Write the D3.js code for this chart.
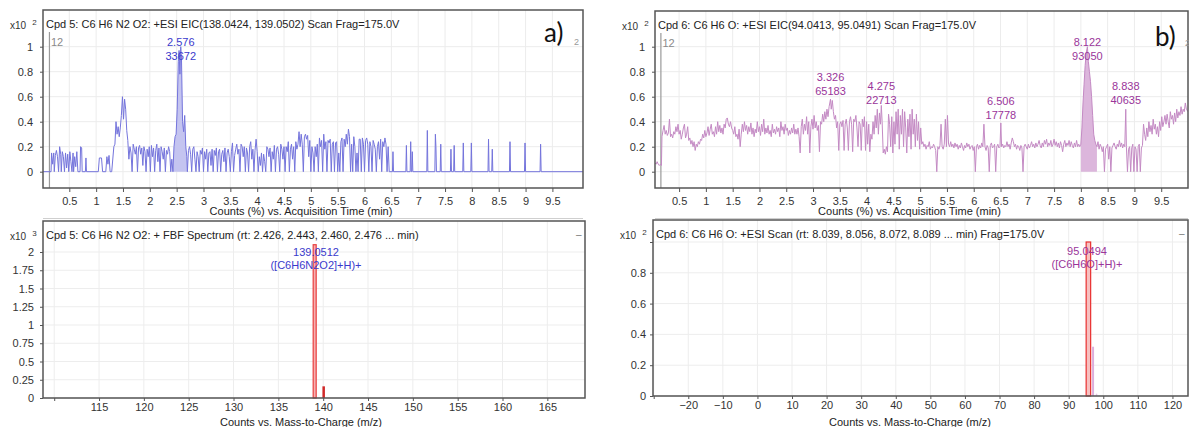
<!DOCTYPE html>
<html><head><meta charset="utf-8">
<script src="https://cdn.jsdelivr.net/npm/d3@7"></script>
<style>
body{margin:0;background:#fff;}
svg{display:block;font-family:"Liberation Sans",Arial,sans-serif;}
</style>
</head><body>
<svg id="c" width="1189" height="427"></svg>
<script>
// ---------------- DATA ----------------
const timeTicks = [0.5,1,1.5,2,2.5,3,3.5,4,4.5,5,5.5,6,6.5,7,7.5,8,8.5,9,9.5];
const eicYTicks = [0,0.2,0.4,0.6,0.8,1];
const specAXTicks = [110,115,120,125,130,135,140,145,150,155,160,165];
const specAYTicks = [0,0.25,0.5,0.75,1,1.25,1.5,1.75,2];
const specBXTicks = [-30,-20,-10,0,10,20,30,40,50,60,70,80,90,100,110,120];
const specBYTicks = [0,0.2,0.4,0.6,0.8,1];

const titleA1 = "Cpd 5: C6 H6 N2 O2: +ESI EIC(138.0424, 139.0502) Scan Frag=175.0V";
const titleA2 = "Cpd 5: C6 H6 N2 O2: + FBF Spectrum (rt: 2.426, 2.443, 2.460, 2.476 ... min)";
const titleB1 = "Cpd 6: C6 H6 O: +ESI EIC(94.0413, 95.0491) Scan Frag=175.0V";
const titleB2 = "Cpd 6: C6 H6 O: +ESI Scan (rt: 8.039, 8.056, 8.072, 8.089 ... min) Frag=175.0V";
const xTitleEIC = "Counts (%) vs. Acquisition Time (min)";
const xTitleSpec = "Counts vs. Mass-to-Charge (m/z)";

// EIC a) : [time (min), counts x10^2 (%)]
const eicA = [[0.00,0],[0.16,0],[0.17,0.15],[0.19,0.06],[0.21,0.15],[0.22,0],[0.24,0.13],[0.26,0.17],[0.28,0.12],[0.30,0],[0.32,0.2],[0.34,0.14],[0.35,0],[0.37,0.16],[0.39,0.12],[0.41,0],[0.43,0.15],[0.45,0.03],[0.47,0.14],[0.49,0],[0.51,0.16],[0.53,0.08],[0.55,0],[0.57,0.15],[0.58,0],[0.60,0.12],[0.62,0.04],[0.64,0.16],[0.66,0],[0.70,0],[0.71,0.2],[0.73,0.19],[0.74,0],[0.80,0],[0.81,0.11],[0.82,0],[1.04,0],[1.06,0.11],[1.10,0.11],[1.12,0],[1.18,0],[1.20,0.12],[1.22,0.06],[1.24,0.13],[1.26,0],[1.29,0],[1.33,0.2],[1.35,0.22],[1.37,0.4],[1.39,0.3],[1.41,0.36],[1.43,0.28],[1.45,0.35],[1.47,0.45],[1.49,0.6],[1.51,0.42],[1.53,0.58],[1.55,0.5],[1.57,0.33],[1.59,0.25],[1.61,0.1],[1.63,0.2],[1.65,0.15],[1.67,0],[1.69,0.22],[1.71,0.18],[1.73,0.14],[1.75,0.2],[1.77,0],[1.79,0.19],[1.81,0.21],[1.83,0.14],[1.85,0.19],[1.87,0.05],[1.89,0.2],[1.91,0.16],[1.93,0],[1.95,0.18],[1.97,0.12],[1.99,0.2],[2.01,0],[2.03,0.21],[2.05,0.12],[2.07,0.19],[2.09,0],[2.11,0.17],[2.13,0.22],[2.15,0.08],[2.17,0.19],[2.19,0],[2.21,0.2],[2.23,0.16],[2.25,0.1],[2.27,0.19],[2.29,0],[2.31,0.17],[2.33,0.14],[2.35,0.2],[2.37,0.16],[2.39,0],[2.41,0.1],[2.43,0],[2.45,0.2],[2.47,0.28],[2.49,0.3],[2.51,0.5],[2.53,0.88],[2.545,0.97],[2.56,0.78],[2.576,1.0],[2.59,0.9],[2.61,0.4],[2.63,0.32],[2.65,0.45],[2.67,0.2],[2.69,0.12],[2.70,0],[2.72,0.17],[2.74,0.2],[2.76,0.14],[2.78,0],[2.80,0.18],[2.82,0.2],[2.84,0.1],[2.86,0],[2.88,0.16],[2.90,0.12],[2.92,0],[2.94,0.17],[2.96,0.14],[2.98,0.19],[3.00,0],[3.02,0.16],[3.04,0.1],[3.06,0.18],[3.08,0],[3.10,0.15],[3.12,0.16],[3.14,0.05],[3.16,0.18],[3.18,0],[3.20,0.17],[3.22,0.13],[3.24,0.19],[3.26,0],[3.28,0.16],[3.30,0.18],[3.32,0],[3.34,0.14],[3.36,0.17],[3.38,0.08],[3.40,0.19],[3.42,0],[3.44,0.15],[3.46,0.18],[3.48,0.12],[3.50,0],[3.52,0.16],[3.54,0.23],[3.56,0],[3.58,0.13],[3.60,0.18],[3.62,0.22],[3.64,0.14],[3.66,0.18],[3.68,0],[3.70,0.22],[3.72,0.2],[3.74,0.12],[3.76,0.2],[3.78,0],[3.80,0.19],[3.82,0.15],[3.84,0],[3.86,0.2],[3.88,0.24],[3.90,0.1],[3.92,0.18],[3.94,0],[3.96,0.17],[3.98,0.26],[4.00,0.16],[4.02,0],[4.04,0.12],[4.06,0.05],[4.08,0.15],[4.10,0],[4.12,0.14],[4.14,0.08],[4.16,0],[4.18,0.2],[4.20,0.18],[4.22,0.12],[4.24,0.19],[4.26,0],[4.28,0.16],[4.30,0.1],[4.32,0.21],[4.34,0],[4.36,0.18],[4.38,0.2],[4.40,0.14],[4.42,0],[4.44,0.22],[4.46,0.18],[4.48,0.1],[4.50,0.2],[4.52,0],[4.54,0.2],[4.56,0.16],[4.58,0.24],[4.60,0],[4.62,0.18],[4.64,0.22],[4.66,0.1],[4.68,0.2],[4.70,0],[4.72,0.24],[4.74,0.18],[4.76,0.22],[4.78,0.32],[4.80,0.2],[4.82,0.3],[4.84,0.22],[4.86,0],[4.88,0.28],[4.90,0.3],[4.92,0.26],[4.94,0.29],[4.96,0.12],[4.98,0.25],[5.00,0],[5.02,0.2],[5.04,0.15],[5.06,0],[5.08,0.2],[5.10,0.12],[5.12,0.22],[5.14,0],[5.16,0.27],[5.18,0.2],[5.20,0.25],[5.22,0],[5.24,0.3],[5.26,0.18],[5.28,0.24],[5.30,0],[5.32,0.25],[5.34,0.23],[5.36,0.26],[5.38,0],[5.40,0.22],[5.42,0.24],[5.44,0],[5.46,0.23],[5.48,0.24],[5.50,0],[5.52,0.15],[5.54,0],[5.56,0.24],[5.58,0.27],[5.60,0],[5.62,0.26],[5.64,0.2],[5.66,0.3],[5.68,0.22],[5.70,0.34],[5.72,0.28],[5.74,0],[5.76,0.22],[5.78,0],[5.80,0.28],[5.82,0.2],[5.84,0],[5.86,0.15],[5.88,0],[5.90,0.26],[5.92,0.26],[5.94,0],[5.96,0.27],[5.98,0.22],[6.00,0],[6.02,0.25],[6.04,0.27],[6.06,0.22],[6.08,0],[6.10,0.24],[6.12,0.2],[6.14,0],[6.16,0.25],[6.18,0.22],[6.20,0.18],[6.22,0],[6.24,0.2],[6.26,0.24],[6.28,0.1],[6.30,0.26],[6.32,0],[6.34,0.24],[6.36,0.2],[6.38,0.27],[6.40,0.22],[6.42,0],[6.44,0.2],[6.46,0],[6.52,0],[6.53,0.16],[6.54,0],[6.77,0],[6.78,0.21],[6.79,0],[6.85,0],[6.86,0.24],[6.87,0],[6.88,0],[6.89,0.16],[6.90,0],[7.16,0],[7.17,0.33],[7.18,0],[7.31,0],[7.32,0.30],[7.33,0.2],[7.34,0],[7.41,0],[7.42,0.22],[7.43,0],[7.60,0],[7.61,0.18],[7.62,0],[7.66,0],[7.67,0.21],[7.68,0],[7.83,0],[7.84,0.23],[7.85,0],[7.98,0],[7.99,0.23],[8.00,0],[8.30,0],[8.31,0.26],[8.32,0],[8.37,0],[8.38,0.18],[8.39,0],[8.70,0],[8.71,0.24],[8.72,0],[8.98,0],[8.99,0.23],[9.00,0],[9.27,0],[9.28,0.22],[9.29,0],[10.07,0]];

// EIC b)
const eicB = [[0.05,0.07],[0.07,0.06],[0.09,0.08],[0.11,0.06],[0.13,0.05],[0.15,0.06],[0.17,0.05],[0.18,0.28],[0.20,0.33],[0.22,0.37],[0.24,0.3],[0.26,0.33],[0.28,0.29],[0.30,0.31],[0.32,0.42],[0.34,0.28],[0.36,0.3],[0.38,0.27],[0.40,0.32],[0.42,0.3],[0.44,0.36],[0.46,0.32],[0.48,0.38],[0.50,0.3],[0.52,0.33],[0.54,0.26],[0.56,0.3],[0.58,0.35],[0.60,0.38],[0.62,0.27],[0.64,0.3],[0.66,0.36],[0.68,0.25],[0.70,0.27],[0.72,0.22],[0.74,0.25],[0.76,0.2],[0.78,0.24],[0.80,0.17],[0.82,0.22],[0.84,0.2],[0.86,0.24],[0.88,0.22],[0.90,0.26],[0.92,0.25],[0.94,0.3],[0.96,0.27],[0.98,0.33],[1.00,0.28],[1.02,0.31],[1.04,0.36],[1.06,0.29],[1.08,0.34],[1.10,0.38],[1.12,0.3],[1.14,0.32],[1.16,0.28],[1.18,0.36],[1.20,0.3],[1.22,0.4],[1.24,0.32],[1.26,0.37],[1.28,0.31],[1.30,0.35],[1.32,0.3],[1.34,0.38],[1.36,0.35],[1.38,0.42],[1.40,0.43],[1.42,0.38],[1.44,0.36],[1.46,0.4],[1.48,0.35],[1.50,0.33],[1.52,0.3],[1.54,0.36],[1.56,0.28],[1.58,0.3],[1.60,0.26],[1.62,0.34],[1.64,0.2],[1.66,0.3],[1.68,0.38],[1.70,0.32],[1.72,0.4],[1.74,0.33],[1.76,0.37],[1.78,0.3],[1.80,0.36],[1.82,0.32],[1.84,0.39],[1.86,0.3],[1.88,0.35],[1.90,0.28],[1.92,0.34],[1.94,0.31],[1.96,0.4],[1.98,0.32],[2.00,0.36],[2.02,0.29],[2.04,0.38],[2.06,0.32],[2.08,0.42],[2.10,0.3],[2.12,0.35],[2.14,0.31],[2.16,0.37],[2.18,0.3],[2.20,0.33],[2.22,0.28],[2.24,0.38],[2.26,0.31],[2.28,0.34],[2.30,0.3],[2.32,0.36],[2.34,0.32],[2.36,0.35],[2.38,0.28],[2.40,0.4],[2.42,0.33],[2.44,0.36],[2.46,0.3],[2.48,0.38],[2.50,0.33],[2.52,0.35],[2.54,0.29],[2.56,0.33],[2.58,0.3],[2.60,0.35],[2.62,0.31],[2.64,0.38],[2.66,0.3],[2.68,0.34],[2.70,0.3],[2.72,0.35],[2.74,0.28],[2.76,0.15],[2.78,0.36],[2.80,0.42],[2.82,0.3],[2.84,0.38],[2.86,0.33],[2.88,0.44],[2.90,0.3],[2.92,0.4],[2.94,0.15],[2.96,0.36],[2.98,0.42],[3.00,0.34],[3.02,0.45],[3.04,0.35],[3.06,0.4],[3.08,0.33],[3.10,0.37],[3.12,0.16],[3.14,0.4],[3.16,0.38],[3.18,0.46],[3.20,0.4],[3.22,0.48],[3.24,0.42],[3.26,0.5],[3.28,0.44],[3.30,0.52],[3.326,0.58],[3.34,0.5],[3.36,0.57],[3.38,0.48],[3.40,0.42],[3.42,0.45],[3.44,0.35],[3.46,0.4],[3.48,0.17],[3.50,0.38],[3.52,0.4],[3.54,0.36],[3.56,0.41],[3.58,0.17],[3.60,0.38],[3.62,0.42],[3.64,0.35],[3.66,0.17],[3.68,0.4],[3.70,0.44],[3.72,0.38],[3.74,0.16],[3.76,0.42],[3.78,0.4],[3.80,0.45],[3.82,0.35],[3.84,0.2],[3.86,0.4],[3.88,0.38],[3.90,0.17],[3.92,0.42],[3.94,0.36],[3.96,0.44],[3.98,0.17],[4.00,0.4],[4.02,0.22],[4.04,0.38],[4.06,0.16],[4.08,0.3],[4.10,0.26],[4.12,0.4],[4.14,0.3],[4.16,0.45],[4.18,0.35],[4.20,0.5],[4.22,0.3],[4.24,0.47],[4.26,0.38],[4.275,0.53],[4.29,0.4],[4.31,0.15],[4.33,0.18],[4.35,0.14],[4.37,0.2],[4.39,0.16],[4.41,0.46],[4.43,0.38],[4.45,0.2],[4.47,0.44],[4.49,0.15],[4.51,0.4],[4.53,0.22],[4.55,0.48],[4.57,0.3],[4.59,0.5],[4.61,0.18],[4.63,0.45],[4.65,0.3],[4.67,0.5],[4.69,0.2],[4.71,0.48],[4.73,0.35],[4.75,0.15],[4.77,0.42],[4.79,0.28],[4.81,0.46],[4.83,0.18],[4.85,0.5],[4.87,0.3],[4.89,0.42],[4.91,0.2],[4.93,0.46],[4.95,0.25],[4.97,0.4],[4.99,0.18],[5.01,0.35],[5.03,0.22],[5.05,0.24],[5.07,0.2],[5.09,0.22],[5.11,0.18],[5.13,0.21],[5.15,0.2],[5.17,0.24],[5.19,0.18],[5.21,0.2],[5.23,0.19],[5.25,0.22],[5.27,0.2],[5.29,0.17],[5.31,0.0],[5.33,0.2],[5.35,0.18],[5.37,0.21],[5.39,0.38],[5.41,0.2],[5.43,0.18],[5.45,0.22],[5.47,0.42],[5.49,0.2],[5.51,0.45],[5.53,0.22],[5.55,0.2],[5.57,0.24],[5.59,0.2],[5.61,0.22],[5.63,0.19],[5.65,0.23],[5.67,0.2],[5.69,0.22],[5.71,0.18],[5.73,0.21],[5.75,0.19],[5.77,0.23],[5.79,0.2],[5.81,0.17],[5.83,0.21],[5.85,0.19],[5.87,0.23],[5.89,0.2],[5.91,0.22],[5.93,0.18],[5.95,0.2],[5.97,0.21],[5.99,0.17],[6.01,0.2],[6.03,0.0],[6.05,0.2],[6.07,0.22],[6.09,0.18],[6.11,0.21],[6.13,0.19],[6.15,0.23],[6.17,0.2],[6.19,0.38],[6.21,0.2],[6.23,0.17],[6.25,0.21],[6.27,0.19],[6.29,0.0],[6.31,0.21],[6.33,0.23],[6.35,0.19],[6.37,0.2],[6.39,0.22],[6.41,0.0],[6.43,0.2],[6.45,0.22],[6.47,0.19],[6.49,0.2],[6.506,0.39],[6.52,0.2],[6.54,0.22],[6.56,0.19],[6.58,0.21],[6.60,0.2],[6.62,0.24],[6.64,0.2],[6.66,0.22],[6.68,0.18],[6.70,0.23],[6.72,0.27],[6.74,0.24],[6.76,0.2],[6.78,0.22],[6.80,0.18],[6.82,0.21],[6.84,0.2],[6.86,0.17],[6.88,0.21],[6.90,0.19],[6.92,0.0],[6.94,0.2],[6.96,0.22],[6.98,0.2],[7.00,0.18],[7.02,0.22],[7.04,0.19],[7.06,0.21],[7.08,0.24],[7.10,0.2],[7.12,0.22],[7.14,0.19],[7.16,0.23],[7.18,0.2],[7.20,0.22],[7.22,0.25],[7.24,0.21],[7.26,0.19],[7.28,0.23],[7.30,0.2],[7.32,0.25],[7.34,0.22],[7.36,0.26],[7.38,0.2],[7.40,0.23],[7.42,0.21],[7.44,0.25],[7.46,0.2],[7.48,0.22],[7.50,0.26],[7.52,0.21],[7.54,0.24],[7.56,0.2],[7.58,0.23],[7.60,0.19],[7.62,0.24],[7.64,0.21],[7.66,0.16],[7.68,0.22],[7.70,0.25],[7.72,0.2],[7.74,0.23],[7.76,0.21],[7.78,0.25],[7.80,0.2],[7.82,0.24],[7.84,0.21],[7.86,0.19],[7.88,0.23],[7.90,0.2],[7.92,0.25],[7.94,0.2],[7.96,0.22],[7.98,0.2],[8.00,0.22],[8.02,0.35],[8.04,0.55],[8.06,0.7],[8.08,0.85],[8.10,0.95],[8.122,1.0],[8.14,0.88],[8.16,0.8],[8.18,0.72],[8.20,0.6],[8.22,0.45],[8.24,0.3],[8.26,0.25],[8.28,0.22],[8.30,0.2],[8.32,0.24],[8.34,0.18],[8.36,0.22],[8.38,0.2],[8.40,0.16],[8.42,0.2],[8.44,0.0],[8.46,0.18],[8.48,0.2],[8.50,0.22],[8.52,0.1],[8.54,0.2],[8.56,0.0],[8.58,0.19],[8.60,0.21],[8.62,0.23],[8.64,0.2],[8.66,0.18],[8.68,0.22],[8.70,0.2],[8.72,0.25],[8.74,0.2],[8.76,0.23],[8.78,0.19],[8.80,0.22],[8.82,0.2],[8.838,0.5],[8.85,0.2],[8.87,0.0],[8.89,0.18],[8.91,0.2],[8.93,0.0],[8.95,0.19],[8.97,0.22],[8.99,0.0],[9.01,0.2],[9.03,0.18],[9.05,0.0],[9.07,0.2],[9.09,0.22],[9.11,0.0],[9.13,0.19],[9.15,0.21],[9.17,0.38],[9.19,0.3],[9.21,0.25],[9.23,0.35],[9.25,0.28],[9.27,0.4],[9.29,0.32],[9.31,0.37],[9.33,0.3],[9.35,0.42],[9.37,0.34],[9.39,0.38],[9.41,0.3],[9.43,0.36],[9.45,0.28],[9.47,0.4],[9.49,0.33],[9.51,0.44],[9.53,0.36],[9.55,0.4],[9.57,0.45],[9.59,0.38],[9.61,0.46],[9.63,0.4],[9.65,0.35],[9.67,0.48],[9.69,0.42],[9.71,0.45],[9.73,0.38],[9.75,0.47],[9.77,0.4],[9.79,0.5],[9.81,0.43],[9.83,0.48],[9.85,0.45],[9.87,0.52],[9.89,0.46],[9.91,0.5],[9.93,0.48],[9.95,0.55],[9.97,0.5],[10.0,0.48]];

// integrated peak ranges (min)
const peakRangeA = [2.43, 2.70];
const peakRangeB = [8.00, 8.30];

// peak labels
const peakLabelsA_rt = ["2.576"];
const peakLabelsA_area = ["33672"];
const peakLabelsB_rt = ["3.326","4.275","6.506","8.122","8.838"];
const peakLabelsB_area = ["65183","22713","17778","93050","40635"];

// spectra : m/z and abundance
const specA_mz = [139.0512, 140.054];
const specA_ab = [2.10, 0.16];
const specA_label = ["139.0512", "([C6H6N2O2]+H)+"];
const specB_mz = [95.0494, 97.05, 98.05];
const specB_ab = [1.0, 0.32, 0.015];
const specB_label = ["95.0494", "([C6H6O]+H)+"];

// ---------------- DRAWING ----------------
const svg = d3.select("#c");
const FONT = 11;

function styleAxis(g, size){
  g.select(".domain").remove();
  g.selectAll("line").attr("stroke","#555");
  g.selectAll("text").attr("fill","#333").style("font-size", size+"px").style("font-family",'"Liberation Sans",Arial,sans-serif');
}

function multiplier(x, y, exp){
  const t = svg.append("text").attr("x",x).attr("y",y).attr("fill","#333").style("font-size","10px");
  t.append("tspan").text("x10");
  t.append("tspan").attr("dx",6).attr("dy",-4).style("font-size","8px").text(exp);
}

function eicPanel(cfg){
  const {L,R,T,B,x0,x1,y0px,data,line,fill,labCol,title,marker,range,letter} = cfg;
  const x = d3.scaleLinear().domain([x0,x1]).range([L,R]);
  const y = d3.scaleLinear().domain([0,1]).range([y0px, y0px-125]);
  const g = svg.append("g");
  const clipId = "clip"+Math.round(L);
  svg.append("clipPath").attr("id",clipId).append("rect").attr("x",L).attr("y",T).attr("width",R-L).attr("height",B-T);
  // grid
  g.selectAll(".gx").data(timeTicks).join("line").attr("x1",d=>x(d)).attr("x2",d=>x(d)).attr("y1",T).attr("y2",B).attr("stroke","#ececec");
  g.selectAll(".gy").data(eicYTicks).join("line").attr("x1",L).attr("x2",R).attr("y1",d=>y(d)).attr("y2",d=>y(d)).attr("stroke","#ececec");
  // peak fill
  const inPk = data.filter(d=>d[0]>=range[0] && d[0]<=range[1]);
  const cg = g.append("g").attr("clip-path",`url(#${clipId})`);
  cg.append("path").datum(inPk).attr("d", d3.area().x(d=>x(d[0])).y0(y(0)).y1(d=>y(d[1]))).attr("fill",fill).attr("stroke","none");
  // marker line
  cg.append("line").attr("x1",x(marker)).attr("x2",x(marker)).attr("y1",T+22).attr("y2",B).attr("stroke","#9a9a9a").attr("stroke-width",1.2);
  g.append("text").attr("x",x(marker)+1.5).attr("y",T+36).attr("fill","#8a8a8a").style("font-size","11px").text("12");
  // line
  cg.append("path").datum(data).attr("d", d3.line().x(d=>x(d[0])).y(d=>y(d[1]))).attr("fill","none").attr("stroke",line).attr("stroke-width",1).attr("stroke-linejoin","round");
  // box
  g.append("rect").attr("x",L).attr("y",T).attr("width",R-L).attr("height",B-T).attr("fill","none").attr("stroke","#555").attr("stroke-width",1.5);
  // axes
  const ax = g.append("g").attr("transform",`translate(0,${B})`).call(d3.axisBottom(x).tickValues(timeTicks).tickSize(4).tickPadding(5).tickFormat(d3.format("~g")));
  styleAxis(ax, FONT);
  const ay = g.append("g").attr("transform",`translate(${L},0)`).call(d3.axisLeft(y).tickValues(eicYTicks).tickSize(3).tickPadding(7).tickFormat(d3.format("~g")));
  styleAxis(ay, FONT);
  // titles
  g.append("text").attr("x",L+3).attr("y",T+18).attr("fill","#222").style("font-size",FONT+"px").text(title);
  g.append("text").attr("x",(L+R)/2 - 12).attr("y",B+27).attr("text-anchor","middle").attr("fill","#222").style("font-size",FONT+"px").text(xTitleEIC);
  svg.append("line").attr("x1",L).attr("x2",Math.min(R,1189)).attr("y1",218.5).attr("y2",218.5).attr("stroke","#cfcfcf");
  multiplier(L-33, T+19, "2");
  // peak labels
  cfg.labels.forEach((lab,i)=>{
    const cx = x(+lab), ly = cfg.labY[i];
    g.append("text").attr("x",cx).attr("y",ly+4).attr("text-anchor","middle").attr("fill",labCol).style("font-size",FONT+"px").text(lab);
    g.append("text").attr("x",cx).attr("y",ly+18).attr("text-anchor","middle").attr("fill",labCol).style("font-size",FONT+"px").text(cfg.areas[i]);
  });
  // letter
  g.append("text").attr("x",letter.x).attr("y",letter.y).attr("fill","#111").style("font-family","Lato, 'Open Sans', sans-serif").style("font-size","26px").text(letter.t);
  g.append("text").attr("x",letter.x+30).attr("y",T+35).attr("fill","#999").style("font-size","9px").text("2");
}

eicPanel({L:43,R:583,T:10,B:188,x0:0.01,x1:10.07,y0px:171.7,data:eicA,line:"#7474dc",fill:"#c4c4f0",labCol:"#3a3acc",
  title:titleA1, marker:0.13, range:peakRangeA, labels:peakLabelsA_rt, areas:peakLabelsA_area, labY:[42],
  letter:{t:"a)",x:544,y:42}});
eicPanel({L:655,R:1188,T:11,B:188,x0:0.05,x1:10.0,y0px:171.7,data:eicB,line:"#c48ac4",fill:"#dcb6dc",labCol:"#9a359a",
  title:titleB1, marker:0.16, range:peakRangeB, labels:peakLabelsB_rt, areas:peakLabelsB_area, labY:[77,86,101,42,86],
  letter:{t:"b)",x:1155,y:46}});

function specPanel(cfg){
  const {L,R,T,B,x0,x1,yPer,xt,yt,mz,ab,title,labCol,exp,label,labX} = cfg;
  const x = d3.scaleLinear().domain([x0,x1]).range([L,R]);
  const y = d3.scaleLinear().domain([0,1]).range([B, B-yPer]);
  const g = svg.append("g");
  g.selectAll(".gx").data(xt).join("line").attr("x1",d=>x(d)).attr("x2",d=>x(d)).attr("y1",T).attr("y2",B).attr("stroke","#ededed");
  g.selectAll(".gy").data(yt).join("line").attr("x1",L).attr("x2",R).attr("y1",d=>y(d)).attr("y2",d=>y(d)).attr("stroke","#ededed");
  // peaks
  mz.forEach((m,i)=>{
    const st = cfg.styles[i];
    if(st.box){
      g.append("rect").attr("x",x(m)+st.off).attr("y",y(ab[i])).attr("width",st.w).attr("height",B-y(ab[i]))
        .attr("fill",st.fill).attr("stroke",st.stroke).attr("stroke-width",1.2);
    } else {
      g.append("line").attr("x1",x(m)).attr("x2",x(m)).attr("y1",B).attr("y2",y(ab[i])).attr("stroke",st.stroke).attr("stroke-width",st.w);
    }
  });
  g.append("rect").attr("x",L).attr("y",T).attr("width",R-L).attr("height",B-T).attr("fill","none").attr("stroke","#555").attr("stroke-width",1.5);
  const ax = g.append("g").attr("transform",`translate(0,${B})`).call(d3.axisBottom(x).tickValues(xt).tickSize(3).tickPadding(2).tickFormat(d=> cfg.hideX.includes(d) ? "" : d3.format("~g")(d)));
  styleAxis(ax, FONT);
  const ay = g.append("g").attr("transform",`translate(${L},0)`).call(d3.axisLeft(y).tickValues(yt).tickSize(3).tickPadding(cfg.ypad).tickFormat(d=> cfg.hideY.includes(d) ? "" : d3.format("~g")(d)));
  styleAxis(ay, FONT);
  g.append("text").attr("x",L+3).attr("y",T+18).attr("fill","#222").style("font-size",FONT+"px").text(title);
  g.append("text").attr("x",R-9).attr("y",T+17).attr("fill","#777").style("font-size","10px").text("–");
  g.append("text").attr("x",cfg.xTitleX).attr("y",426).attr("text-anchor","middle").attr("fill","#222").style("font-size",FONT+"px").text(xTitleSpec);
  multiplier(L-33, T+19, exp);
  g.append("text").attr("x",labX).attr("y",T+35).attr("text-anchor","middle").attr("fill",labCol).style("font-size",FONT+"px").text(label[0]);
  g.append("text").attr("x",labX).attr("y",T+48).attr("text-anchor","middle").attr("fill",labCol).style("font-size",FONT+"px").text(label[1]);
}

specPanel({L:43,R:585,T:221,B:398,x0:108.75,x1:169.2,yPer:73,xt:specAXTicks,yt:specAYTicks,mz:specA_mz,ab:specA_ab,
  title:titleA2,labCol:"#3a3acc",exp:"3",label:specA_label,labX:316,ypad:6,hideX:[110],hideY:[],xTitleX:301,
  styles:[{box:true,off:-1.5,w:3,fill:"#f6b0b0",stroke:"#e84040"},{box:false,w:2.5,stroke:"#d02828"}]});
specPanel({L:653,R:1188,T:220,B:396,x0:-30.2,x1:124.5,yPer:154,xt:specBXTicks,yt:specBYTicks,mz:specB_mz,ab:specB_ab,
  title:titleB2,labCol:"#9a359a",exp:"2",label:specB_label,labX:1087,ypad:4,hideX:[-30],hideY:[1],xTitleX:910,
  styles:[{box:true,off:0,w:4.5,fill:"#f7c0c0",stroke:"#e83030"},{box:false,w:2,stroke:"#dcaedc"},{box:false,w:1.5,stroke:"#e6c6e6"}]});
</script>
</body></html>
